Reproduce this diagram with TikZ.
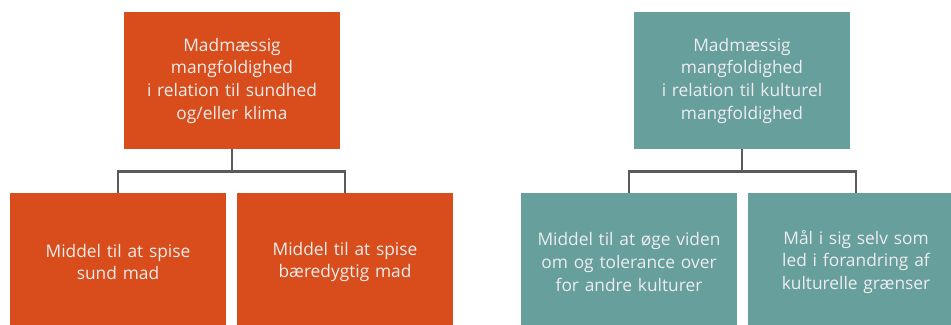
\documentclass[tikz,border=0pt]{standalone}
\usepackage{fontspec}
\setmainfont{Open Sans}
\usepackage{xcolor}
\usetikzlibrary{positioning,calc}

\definecolor{rust}{RGB}{216,77,27}
\definecolor{teal}{RGB}{103,159,157}
\definecolor{linegray}{RGB}{90,90,90}

\tikzset{
  box/.style={minimum width=162pt, minimum height=103pt, inner sep=0pt,
    text width=155pt, align=center, text=white!93!black,
    font=\fontsize{13}{17}\selectfont},
  link/.style={draw=linegray, line width=1.7pt}
}

\begin{document}
\begin{tikzpicture}[x=0.75pt, y=-0.75pt]
  \useasboundingbox (0,0) rectangle (951,325);

  % Left tree: health and climate
  \node[box, fill=rust] (sundtop) at (232,80.5)
    {Madmæssig\\mangfoldighed\\i relation til sundhed\\og/eller klima};
  \node[box, fill=rust] (sund) at (118,262) {Middel til at spise\\sund mad};
  \node[box, fill=rust] (baer) at (345,262) {Middel til at spise\\bæredygtig mad};

  \draw[link] (sundtop.south) -- ++(0,22) -| (sund.north);
  \draw[link] (sundtop.south) -- ++(0,22) -| (baer.north);

  % Right tree: culture
  \node[box, fill=teal] (kulttop) at (742,80.5)
    {Madmæssig\\mangfoldighed\\i relation til kulturel\\mangfoldighed};
  \node[box, fill=teal] (viden) at (629,262)
    {Middel til at øge viden\\om og tolerance over\\for andre kulturer};
  \node[box, fill=teal] (graens) at (856,262)
    {Mål i sig selv som\\led i forandring af\\kulturelle grænser};

  \draw[link] (kulttop.south) -- ++(0,22) -| (viden.north);
  \draw[link] (kulttop.south) -- ++(0,22) -| (graens.north);
\end{tikzpicture}
\end{document}
